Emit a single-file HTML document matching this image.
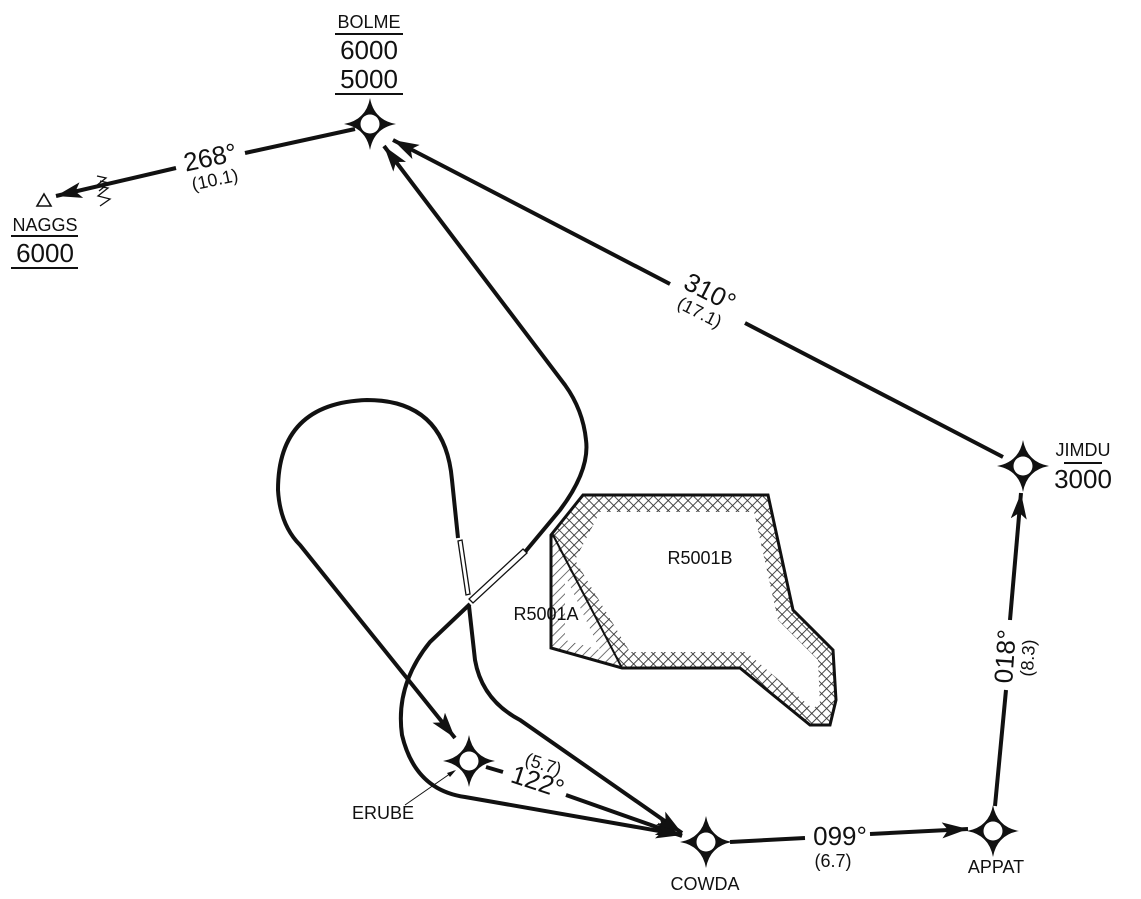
<!DOCTYPE html>
<html><head><meta charset="utf-8"><style>
html,body{margin:0;padding:0;background:#fff;}
svg{display:block;font-family:"Liberation Sans",sans-serif;}
</style></head><body>
<svg width="1141" height="899" viewBox="0 0 1141 899" xmlns="http://www.w3.org/2000/svg">
<defs>
<marker id="ah" markerWidth="30" markerHeight="16" refX="26" refY="8" orient="auto" markerUnits="userSpaceOnUse">
<path d="M26,8 L0,0 L6,8 L0,16 Z" fill="#111"/>
</marker>
<pattern id="xh" width="7" height="7" patternUnits="userSpaceOnUse" patternTransform="rotate(45)">
<rect width="7" height="7" fill="#fff"/>
<path d="M0,0 V7 M0,0 H7" stroke="#333" stroke-width="1.8"/>
</pattern>
<pattern id="dh" width="7" height="7" patternUnits="userSpaceOnUse" patternTransform="rotate(45)">
<rect width="7" height="7" fill="#fff"/>
<path d="M0,0 V7" stroke="#444" stroke-width="1.5"/>
</pattern>
<g id="wp">
<path d="M0,-26 Q4,-4 26,0 Q4,4 0,26 Q-4,4 -26,0 Q-4,-4 0,-26Z" fill="#111"/>
<circle r="12" fill="#111"/>
<circle r="9.5" fill="#fff"/>
</g>
</defs>

<polygon points="583,495 768,495 793,610 833,650 836,700 830,725 810,725 740,668 622,668 551,648 551,535" fill="url(#xh)"/>
<polygon points="600,512 754,512 778,620 818,660 820,705 812,708 746,652 630,652 575,560" fill="#fff"/>
<polygon points="551,535 551,648 622,668" fill="url(#dh)"/>
<polygon points="565,575 565,640 600,650" fill="#fff"/>
<polygon points="583,495 768,495 793,610 833,650 836,700 830,725 810,725 740,668 622,668 551,648 551,535" fill="none" stroke="#111" stroke-width="3" stroke-linejoin="miter"/>
<line x1="553" y1="535" x2="622" y2="668" stroke="#111" stroke-width="2"/>
<text x="700" y="564" font-size="18" text-anchor="middle" fill="#111">R5001B</text>
<text x="546" y="620" font-size="18" text-anchor="middle" fill="#111">R5001A</text>

<g fill="none" stroke="#111" stroke-width="4" stroke-linecap="butt">
<line x1="355" y1="129" x2="245" y2="153"/>
<line x1="176" y1="168" x2="56" y2="196" marker-end="url(#ah)"/>
<line x1="1003" y1="457" x2="745" y2="323"/>
<line x1="670" y1="284" x2="393" y2="140" marker-end="url(#ah)"/>
<line x1="995" y1="806" x2="1006" y2="690"/>
<line x1="1010" y1="620" x2="1021" y2="493" marker-end="url(#ah)"/>
<line x1="730" y1="842" x2="805" y2="838"/>
<line x1="870" y1="834" x2="968" y2="829" marker-end="url(#ah)"/>
<line x1="486" y1="767" x2="503" y2="772"/>
<line x1="566" y1="795" x2="682" y2="836" marker-end="url(#ah)"/>
<path d="M525,552 L560,510 Q590,470 586,440 Q583,410 565,385 L384,146" marker-end="url(#ah)"/>
<path d="M470,604 L430,642 Q395,685 402,735 Q415,790 465,797 L682,835" marker-end="url(#ah)"/>
<path d="M469,606 L475,660 Q482,700 520,720 L682,833" marker-end="url(#ah)"/>
<path d="M458,538 L452,480 Q445,400 367,400 Q278,403 278,490 Q280,525 300,545 L455,738" marker-end="url(#ah)"/>
</g>
<g fill="#fff" stroke="#111" stroke-width="1.3">
<polygon points="458,541 462,540 470,594 466,595"/>
<polygon points="523,549 527,553 473,603 469,599"/>
</g>
<path d="M97,176 L106,178 L96,186 L108,188 L98,196 L110,199 L100,206" fill="none" stroke="#111" stroke-width="1.3"/>
<path d="M100,181 L109,183 L99,191" fill="none" stroke="#111" stroke-width="1.3"/>
<line x1="405" y1="805" x2="454" y2="771" stroke="#111" stroke-width="1"/>
<path d="M456,770 L447,773 L450,777 Z" fill="#111"/>

<use href="#wp" x="370" y="124"/>
<use href="#wp" x="1023" y="466"/>
<use href="#wp" x="993" y="831"/>
<use href="#wp" x="706" y="842"/>
<use href="#wp" x="469" y="761"/>
<path d="M44,194 L51,206 L37,206 Z" fill="#fff" stroke="#111" stroke-width="1.6"/>

<g fill="#111" text-anchor="middle">
<text x="369" y="28" font-size="18">BOLME</text>
<line x1="335" y1="34" x2="403" y2="34" stroke="#111" stroke-width="2"/>
<text x="369" y="59" font-size="26">6000</text>
<text x="369" y="88" font-size="26">5000</text>
<line x1="335" y1="94" x2="403" y2="94" stroke="#111" stroke-width="2"/>

<text x="45" y="231" font-size="18">NAGGS</text>
<line x1="11" y1="236" x2="78" y2="236" stroke="#111" stroke-width="2"/>
<text x="45" y="262" font-size="26">6000</text>
<line x1="11" y1="268" x2="78" y2="268" stroke="#111" stroke-width="2"/>

<text x="1083" y="456" font-size="18">JIMDU</text>
<line x1="1064" y1="463" x2="1102" y2="463" stroke="#111" stroke-width="2"/>
<text x="1083" y="488" font-size="26">3000</text>

<text x="996" y="873" font-size="18">APPAT</text>
<text x="705" y="890" font-size="18">COWDA</text>
<text x="383" y="819" font-size="18">ERUBE</text>

<g transform="translate(212,166) rotate(-12)"><text font-size="26">268°</text><text y="20" font-size="18">(10.1)</text></g>
<g transform="translate(706,300) rotate(27)"><text font-size="26">310°</text><text y="20" font-size="18">(17.1)</text></g>
<g transform="translate(1014,657) rotate(-86)"><text font-size="26">018°</text><text y="20" font-size="18">(8.3)</text></g>
<text x="840" y="845" font-size="26">099°</text>
<text x="833" y="867" font-size="18">(6.7)</text>
<g transform="translate(535,790) rotate(18)"><text font-size="26">122°</text><text y="-21" font-size="18">(5.7)</text></g>
</g>
</svg>
</body></html>
